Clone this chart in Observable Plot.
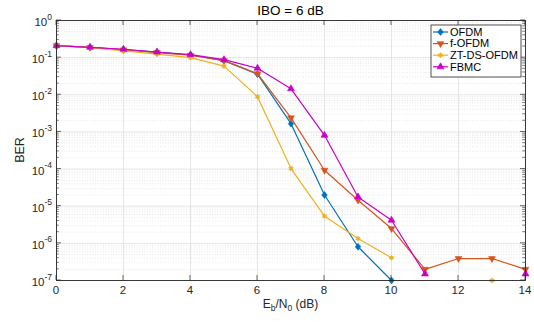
<!DOCTYPE html>
<html><head><meta charset="utf-8">
<script src="https://cdn.jsdelivr.net/npm/d3@7"></script>
<script src="https://cdn.jsdelivr.net/npm/@observablehq/plot@0.6"></script>
<style>
body{margin:0;background:#fff}
#c{width:534px;height:322px;position:relative}
svg text{font-family:"Liberation Sans",Arial,Helvetica,sans-serif}
</style>
</head><body><div id="c"></div>
<script>
// ---- data ----
const ebn0 = [0,1,2,3,4,5,6,7,8,9,10,11,12,13,14];
const ofdm  = [0.21,0.19,0.165,0.14,0.118,0.083,0.036,0.00167,2.0e-5,8.1e-7,1.0e-7,null,null,null,null];
const fofdm = [0.21,0.188,0.162,0.137,0.116,0.083,0.037,0.0024,9.3e-5,1.45e-5,2.5e-6,2.0e-7,3.9e-7,3.9e-7,2.0e-7];
const ztds  = [0.21,0.185,0.152,0.125,0.100,0.059,0.0089,1.03e-4,5.4e-6,1.35e-6,4.1e-7,null,null,1.0e-7,null];
const fbmc  = [0.21,0.19,0.168,0.142,0.12,0.088,0.052,0.0145,8.1e-4,1.78e-5,4.2e-6,1.5e-7,null,null,1.5e-7];
const seriesNames = ["OFDM","f-OFDM","ZT-DS-OFDM","FBMC"];
const seriesColors = ["#0072BD","#D95319","#EDB120","#C800C8"];
const xTicks = [0,2,4,6,8,10,12,14];
const yExponents = [0,-1,-2,-3,-4,-5,-6,-7];
const titleText = "IBO = 6 dB";
const yLabelText = "BER";

// ---- build table ----
const seriesValues = [ofdm, fofdm, ztds, fbmc];
const rows = [];
seriesNames.forEach((name, i) => {
  ebn0.forEach((x, j) => rows.push({x, y: seriesValues[i][j], s: name}));
});
const yMajor = yExponents.map(e => Math.pow(10, e));
const yMinor = [];
yExponents.slice(1).forEach(e => { for (let m = 2; m <= 9; m++) yMinor.push(m * Math.pow(10, e)); });

// symbols
const triDown = {draw(ctx, size){const s=Math.sqrt(size*4/Math.sqrt(3));const h=s*Math.sqrt(3)/2;ctx.moveTo(-s/2,-h/3);ctx.lineTo(s/2,-h/3);ctx.lineTo(0,2*h/3);ctx.closePath();}};
const triUp = {draw(ctx, size){const s=Math.sqrt(size*4/Math.sqrt(3));const h=s*Math.sqrt(3)/2;ctx.moveTo(-s/2,h/3);ctx.lineTo(s/2,h/3);ctx.lineTo(0,-2*h/3);ctx.closePath();}};
const diamond = {draw(ctx, size){const w=Math.sqrt(size/2)*0.85;const h=w*1.25;ctx.moveTo(0,-h);ctx.lineTo(w,0);ctx.lineTo(0,h);ctx.lineTo(-w,0);ctx.closePath();}};
const hexagram = {draw(ctx, size){const R=Math.sqrt(size)*0.62;const r=R*0.55;for(let k=0;k<12;k++){const a=k*Math.PI/6-Math.PI/2;const rr=k%2?r:R;const px=rr*Math.cos(a),py=rr*Math.sin(a);if(k)ctx.lineTo(px,py);else ctx.moveTo(px,py);}ctx.closePath();}};
const seriesSymbols = [diamond, triDown, hexagram, triUp];
const seriesR = [2.6, 2.5, 2.4, 2.6];

const W = 534, H = 322, mL = 56, mR = 9, mT = 20, mB = 42;
const gridColor = "#dedede";

const marks = [
  Plot.ruleY(yMinor, {stroke: "#d6d6d6", strokeDasharray: "1,1.6", strokeWidth: 0.6}),
  Plot.ruleY(yMajor, {stroke: gridColor, strokeWidth: 0.8}),
  Plot.ruleX(xTicks, {stroke: gridColor, strokeWidth: 0.8}),
];
seriesNames.forEach((name, i) => {
  const d = rows.filter(r => r.s === name);
  marks.push(Plot.line(d, {x: "x", y: "y", stroke: seriesColors[i], strokeWidth: 1.2}));
  marks.push(Plot.dot(d.filter(r => r.y != null), {x: "x", y: "y", symbol: seriesSymbols[i], r: seriesR[i], fill: seriesColors[i], stroke: seriesColors[i], strokeWidth: 0.6}));
});
marks.push(Plot.frame({stroke: "#262626", strokeWidth: 0.9}));

const plot = Plot.plot({
  width: W, height: H,
  marginLeft: mL, marginRight: mR, marginTop: mT, marginBottom: mB,
  x: {domain: [0, 14], axis: null},
  y: {type: "log", domain: [1e-7, 1], axis: null},
  marks
});
document.getElementById("c").appendChild(plot);

// ---- axes, labels and legend through Plot's scales ----
const sx = plot.scale("x"), sy = plot.scale("y");
const X = v => sx.apply(v), Y = v => sy.apply(v);
const svg = d3.select(plot);
const g = svg.append("g").attr("fill", "#262626").attr("font-size", 11.5);
const x0 = X(0), x1 = X(14), y0 = Y(1e-7), y1 = Y(1);
const tickColor = "#262626";
// y ticks
yMajor.forEach(v => {
  const y = Y(v);
  g.append("line").attr("x1", x0).attr("x2", x0 + 5).attr("y1", y).attr("y2", y).attr("stroke", tickColor).attr("stroke-width", 0.7);
  g.append("line").attr("x1", x1).attr("x2", x1 - 5).attr("y1", y).attr("y2", y).attr("stroke", tickColor).attr("stroke-width", 0.7);
});
yMinor.forEach(v => {
  const y = Y(v);
  g.append("line").attr("x1", x0).attr("x2", x0 + 2.8).attr("y1", y).attr("y2", y).attr("stroke", tickColor).attr("stroke-width", 0.6);
  g.append("line").attr("x1", x1).attr("x2", x1 - 2.8).attr("y1", y).attr("y2", y).attr("stroke", tickColor).attr("stroke-width", 0.6);
});
// x ticks
xTicks.forEach(v => {
  const x = X(v);
  g.append("line").attr("x1", x).attr("x2", x).attr("y1", y0).attr("y2", y0 - 5).attr("stroke", tickColor).attr("stroke-width", 0.7);
  g.append("line").attr("x1", x).attr("x2", x).attr("y1", y1).attr("y2", y1 + 5).attr("stroke", tickColor).attr("stroke-width", 0.7);
  g.append("text").attr("x", x).attr("y", y0 + 13.5).attr("text-anchor", "middle").text(String(v));
});
// y tick labels with superscripts
yExponents.forEach(e => {
  const t = g.append("text").attr("x", x0 - 4).attr("y", Y(Math.pow(10, e)) + 6).attr("text-anchor", "end");
  t.append("tspan").text("10");
  t.append("tspan").attr("dy", -6.5).attr("font-size", 8.5).text(e === 0 ? "0" : "-" + Math.abs(e));
});
// x label
const xl = g.append("text").attr("x", (x0 + x1) / 2).attr("y", y0 + 27.5).attr("text-anchor", "middle").attr("font-size", 12);
xl.append("tspan").text("E");
xl.append("tspan").attr("dy", 3).attr("font-size", 8.5).text("b");
xl.append("tspan").attr("dy", -3).text("/N");
xl.append("tspan").attr("dy", 3).attr("font-size", 8.5).text("0");
xl.append("tspan").attr("dy", -3).text(" (dB)");
// y label
g.append("text").attr("transform", `translate(24,${(y0 + y1) / 2}) rotate(-90)`).attr("text-anchor", "middle").attr("font-size", 12.5).text(yLabelText);
// title
g.append("text").attr("x", (x0 + x1) / 2).attr("y", 15).attr("text-anchor", "middle").attr("font-size", 13.5).attr("fill", "#000").text(titleText);

// legend
const lg = svg.append("g");
const lx = 431, ly = 25, lw = 90, lh = 52;
lg.append("rect").attr("x", lx).attr("y", ly).attr("width", lw).attr("height", lh).attr("fill", "#fff").attr("stroke", "#262626").attr("stroke-width", 0.8);
seriesNames.forEach((name, i) => {
  const yy = ly + 7 + i * 11.6;
  lg.append("line").attr("x1", lx + 2).attr("x2", lx + 17).attr("y1", yy).attr("y2", yy).attr("stroke", seriesColors[i]).attr("stroke-width", 1.2);
  lg.append("path").attr("d", d3.symbol(seriesSymbols[i], Math.PI * seriesR[i] * seriesR[i])()).attr("transform", `translate(${lx + 9.5},${yy})`).attr("fill", seriesColors[i]).attr("stroke", seriesColors[i]).attr("stroke-width", 0.6);
  lg.append("text").attr("x", lx + 19).attr("y", yy + 3.8).attr("text-anchor", "start").attr("font-size", 11).attr("fill", "#000").text(name);
});
</script>
</body></html>
